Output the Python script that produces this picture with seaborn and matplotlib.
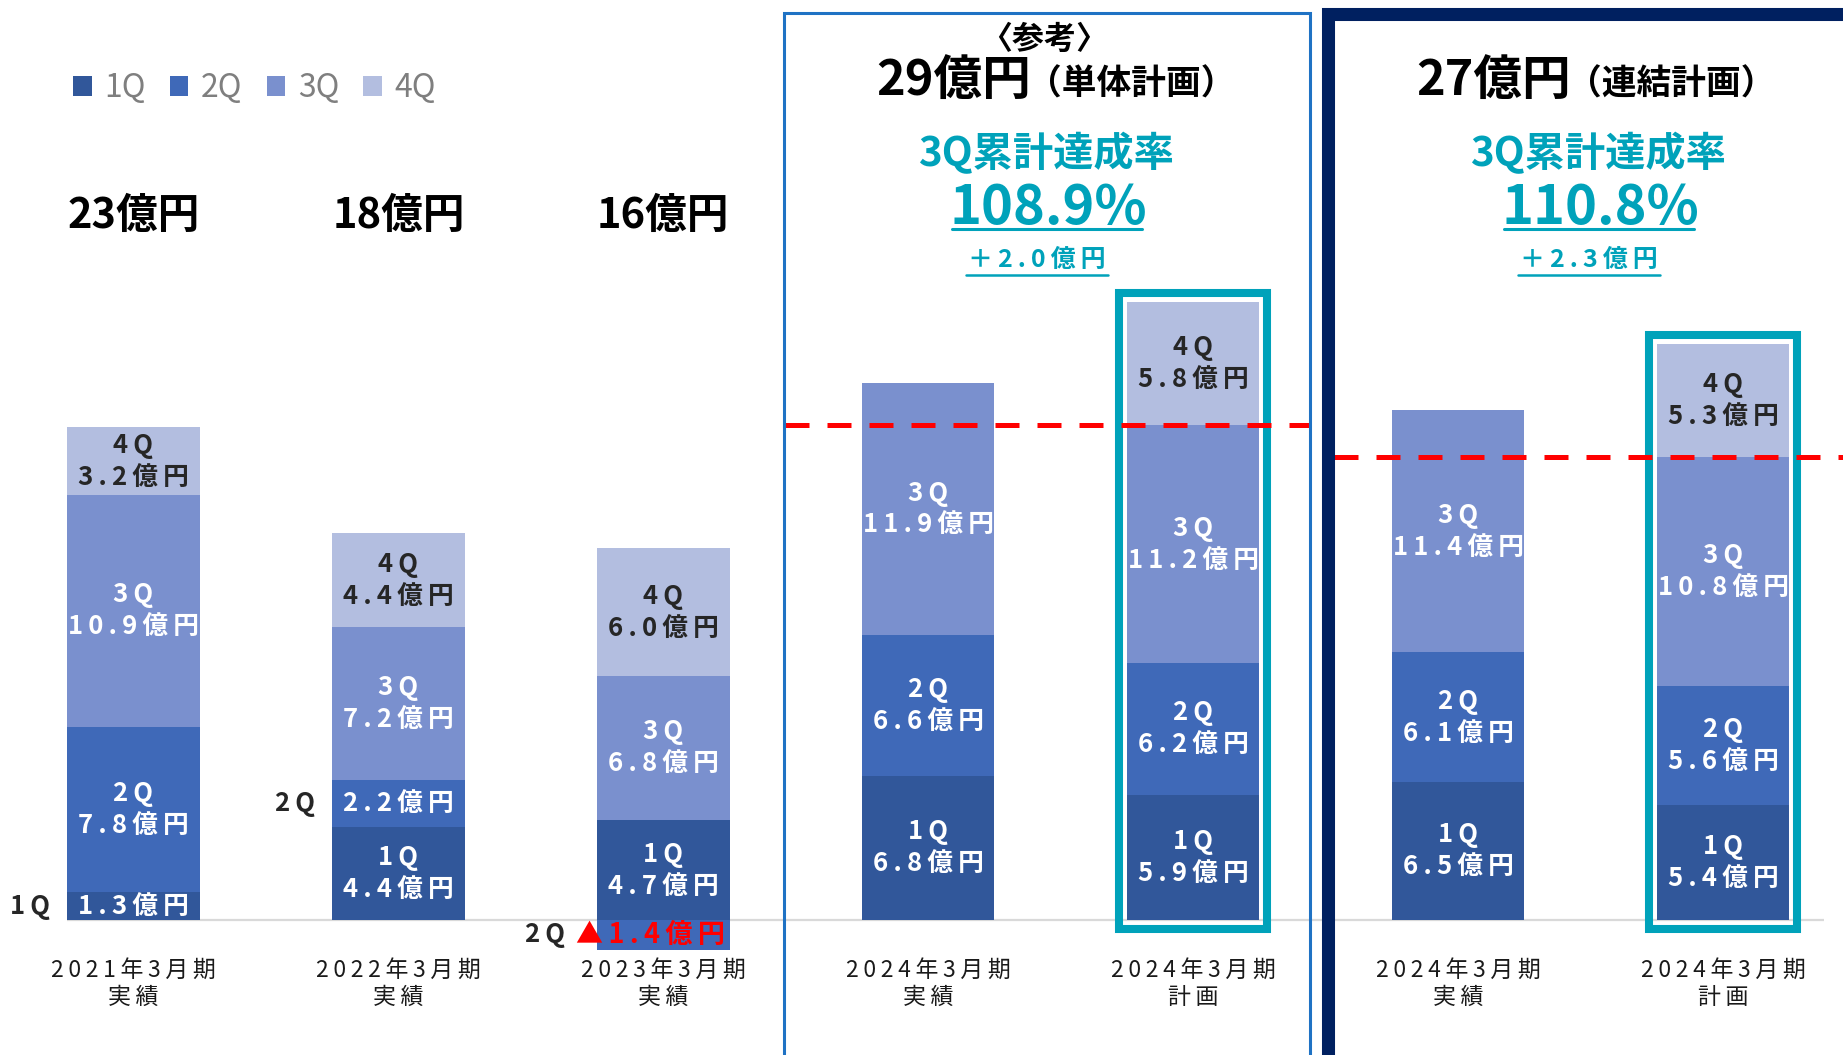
import numpy as np
import pandas as pd
import matplotlib
matplotlib.use("Agg")
import matplotlib.pyplot as plt
import seaborn as sns
from matplotlib.patches import Rectangle, Patch
from matplotlib.lines import Line2D

# ---------------- data ----------------
year_labels = ["2021年3月期", "2022年3月期", "2023年3月期", "2024年3月期",
               "2024年3月期", "2024年3月期", "2024年3月期"]
kind_labels = ["実績", "実績", "実績", "実績", "計画", "実績", "計画"]
quarters = ["1Q", "2Q", "3Q", "4Q"]
q1 = [1.3, 4.4, 4.7, 6.8, 5.9, 6.5, 5.4]
q2 = [7.8, 2.2, -1.4, 6.6, 6.2, 6.1, 5.6]
q3 = [10.9, 7.2, 6.8, 11.9, 11.2, 11.4, 10.8]
q4 = [3.2, 4.4, 6.0, np.nan, 5.8, np.nan, 5.3]
total_labels = ["23億円", "18億円", "16億円"]
plan_bars = [4, 6]
plan_titles = ["29億円", "27億円"]
plan_notes = ["（単体計画）", "（連結計画）"]
rate_title = "3Q累計達成率"
rates = ["108.9%", "110.8%"]
diffs = ["＋2.0億円", "＋2.3億円"]
ref_note = "〈参考〉"

colors = ["#31579A", "#3F69B8", "#7A90CE", "#B3BEE0"]
teal = "#00A2BA"

# ---------------- figure ----------------
W, H, DPI = 1843, 1055, 100
sns.set_style("white")
plt.rcParams["font.family"] = ["Noto Sans CJK JP", "DejaVu Sans"]
FAM = ["Noto Sans CJK JP", "DejaVu Sans"]

fig = plt.figure(figsize=(W / DPI, H / DPI), dpi=DPI)
ax = fig.add_axes([0, 0, 1, 1])

n = len(q1)
vals = np.array([q1, q2, q3, q4], dtype=float)
v0 = np.nan_to_num(vals)
pos = np.where(v0 > 0, v0, 0.0)
cum = np.cumsum(pos, axis=0)
bottoms = cum - pos

rows = []
for k, q in enumerate(quarters):
    for i in range(n):
        v = vals[k, i]
        if np.isnan(v):
            continue
        rows.append(dict(x=i, quarter=q, value=v,
                         top=cum[k, i] if v > 0 else v,
                         bottom=bottoms[k, i] if v > 0 else 0.0))
df = pd.DataFrame(rows)

# layered stacked bars (drawn top-down so lower quarters overwrite)
for k in reversed(range(4)):
    sub = df[(df.quarter == quarters[k]) & (df.value > 0)]
    sns.barplot(data=sub, x="x", y="top", native_scale=True, width=0.5,
                color=colors[k], saturation=1, errorbar=None, ax=ax,
                linewidth=0, zorder=2)
negs = df[df.value < 0]
for q in negs.quarter.unique():
    k = quarters.index(q)
    sns.barplot(data=negs[negs.quarter == q], x="x", y="top",
                native_scale=True, width=0.5, color=colors[k], saturation=1,
                errorbar=None, ax=ax, linewidth=0, zorder=2)

# scale: baseline at 920px from top, 21.24 px per unit, bar spacing 265px
ppu = 21.24
x0px, sp = 133.4, 264.95
ax.set_xlim(-x0px / sp, (W - x0px) / sp)
ax.set_ylim(-(H - 920) / ppu, 920 / ppu)
ax.axis("off")

# baseline
ax.hlines(0, -0.25, 6.38, color="#D9D9D9", lw=1.6, zorder=1)

def tr(s, sep="\u2009"):
    return sep.join(s)

SEG_FS = 18.5
# segment labels
for _, r in df.iterrows():
    i, q, v = int(r.x), r.quarter, r.value
    k = quarters.index(q)
    yc = (r.bottom + v / 2) if v > 0 else v / 2
    tcol = "#262626" if k == 3 else "white"
    if abs(v) < 2.5:
        valtxt = ("▲" if v < 0 else "") + f"{abs(v):.1f}億円"
        vcol = "#FF0000" if v < 0 else tcol
        if v < 0:
            ax.text(i - 0.05, yc, tr(valtxt), ha="center", va="center",
                    color=vcol, fontsize=SEG_FS + 1, fontweight="bold", family=FAM, zorder=5)
            ax.text(i - 0.445, yc, tr(q), ha="center", va="center",
                    color="#262626", fontsize=SEG_FS, fontweight="bold", family=FAM, zorder=5)
        else:
            ax.text(i, yc, tr(valtxt), ha="center", va="center",
                    color=vcol, fontsize=SEG_FS, fontweight="bold", family=FAM, zorder=5)
            ax.text(i - 0.25 - 0.14, yc, tr(q), ha="center", va="center",
                    color="#262626", fontsize=SEG_FS, fontweight="bold", family=FAM, zorder=5)
    else:
        ax.annotate(tr(q), (i, yc), xytext=(0, 11.5), textcoords="offset points",
                    ha="center", va="center", color=tcol, fontsize=SEG_FS,
                    fontweight="bold", family=FAM, zorder=5)
        ax.annotate(tr(f"{v:.1f}億円"), (i, yc), xytext=(0, -11.5),
                    textcoords="offset points", ha="center", va="center",
                    color=tcol, fontsize=SEG_FS, fontweight="bold", family=FAM, zorder=5)

# x category labels
for i in range(n):
    ax.text(i, -50 / ppu, tr(year_labels[i]), ha="center", va="center",
            fontsize=16.5, color="#1A1A1A", family=FAM)
    ax.text(i, -77 / ppu, tr(kind_labels[i]), ha="center", va="center",
            fontsize=16.5, color="#1A1A1A", family=FAM)

# totals above first three bars
for i, t in enumerate(total_labels):
    ax.text(i, (920 - 216) / ppu, t, ha="center", va="center",
            fontsize=30, fontweight="bold", color="black", family=FAM)

# teal highlight frames around plan bars
dx, dy = 8 / sp, 9 / ppu
for i in plan_bars:
    top = cum[3, i]
    ax.add_patch(Rectangle((i - 0.25 - dx, -dy), 0.5 + 2 * dx, top + 2 * dy,
                           fill=False, ec=teal, lw=5.8, zorder=3))

# red dashed lines at 3Q cumulative plan
d_ranges = [((785 - x0px) / sp, (1310 - x0px) / sp),
            ((1334 - x0px) / sp, (W + 5 - x0px) / sp)]
for (xa, xb), i in zip(d_ranges, plan_bars):
    ax.hlines(cum[2, i], xa, xb, color="#FF0000", lw=3.6,
              linestyles=(0, (4.8, 3.6)), zorder=4, capstyle="butt")

# ---------------- frames (figure pixels) ----------------
def fx(p):
    return p / W

def fy(p):
    return 1 - p / H

fig.add_artist(Rectangle((fx(784), fy(1100)), fx(1310) - fx(784), fy(13) - fy(1100),
                         transform=fig.transFigure, fill=False, ec="#1F72C4", lw=2.2,
                         zorder=6))
fig.add_artist(Rectangle((fx(1327.5), fy(1057)), fx(1900) - fx(1327.5), fy(13.5) - fy(1057),
                         transform=fig.transFigure, fill=False, ec="#002060", lw=9.4,
                         zorder=6))

# ---------------- header texts ----------------
fig.text(fx(1044), fy(40), ref_note, ha="center", va="center", fontsize=23,
         fontweight="bold", color="black", family=FAM)
centers = [1046, 1598]
title_right = [1031, 1571]
for j in range(2):
    fig.text(fx(title_right[j]), fy(80), plan_titles[j], ha="right", va="center",
             fontsize=35, fontweight="bold", color="black", family=FAM)
    fig.text(fx(title_right[j] - 4), fy(84), plan_notes[j], ha="left", va="center",
             fontsize=25, fontweight="bold", color="black", family=FAM)
    cx = centers[j]
    fig.text(fx(cx), fy(154), rate_title, ha="center", va="center", fontsize=29,
             fontweight="bold", color=teal, family=FAM)
    fig.text(fx(cx + 2), fy(209), rates[j], ha="center", va="center", fontsize=39,
             fontweight="bold", color=teal, family=FAM)
    fig.add_artist(Line2D([fx(cx - 94), fx(cx + 96)], [fy(229), fy(229)],
                          transform=fig.transFigure, color=teal, lw=2.2))
    fig.text(fx(cx - 9), fy(260), tr(diffs[j]), ha="center", va="center", fontsize=18,
             fontweight="bold", color=teal, family=FAM)
    fig.add_artist(Line2D([fx(cx - 80), fx(cx + 62)], [fy(275), fy(275)],
                          transform=fig.transFigure, color=teal, lw=1.8))

# legend
handles = [Patch(facecolor=c, edgecolor="none") for c in colors]
leg = fig.legend(handles, quarters, loc="center left",
                 bbox_to_anchor=(fx(73), fy(88)), ncol=4, frameon=False,
                 fontsize=23, handlelength=0.58, handleheight=0.58,
                 handletextpad=0.4, columnspacing=0.75, borderpad=0, borderaxespad=0)
for t in leg.get_texts():
    t.set_color("#7F7F7F")

fig.savefig("out.png", dpi=DPI, facecolor="white")
